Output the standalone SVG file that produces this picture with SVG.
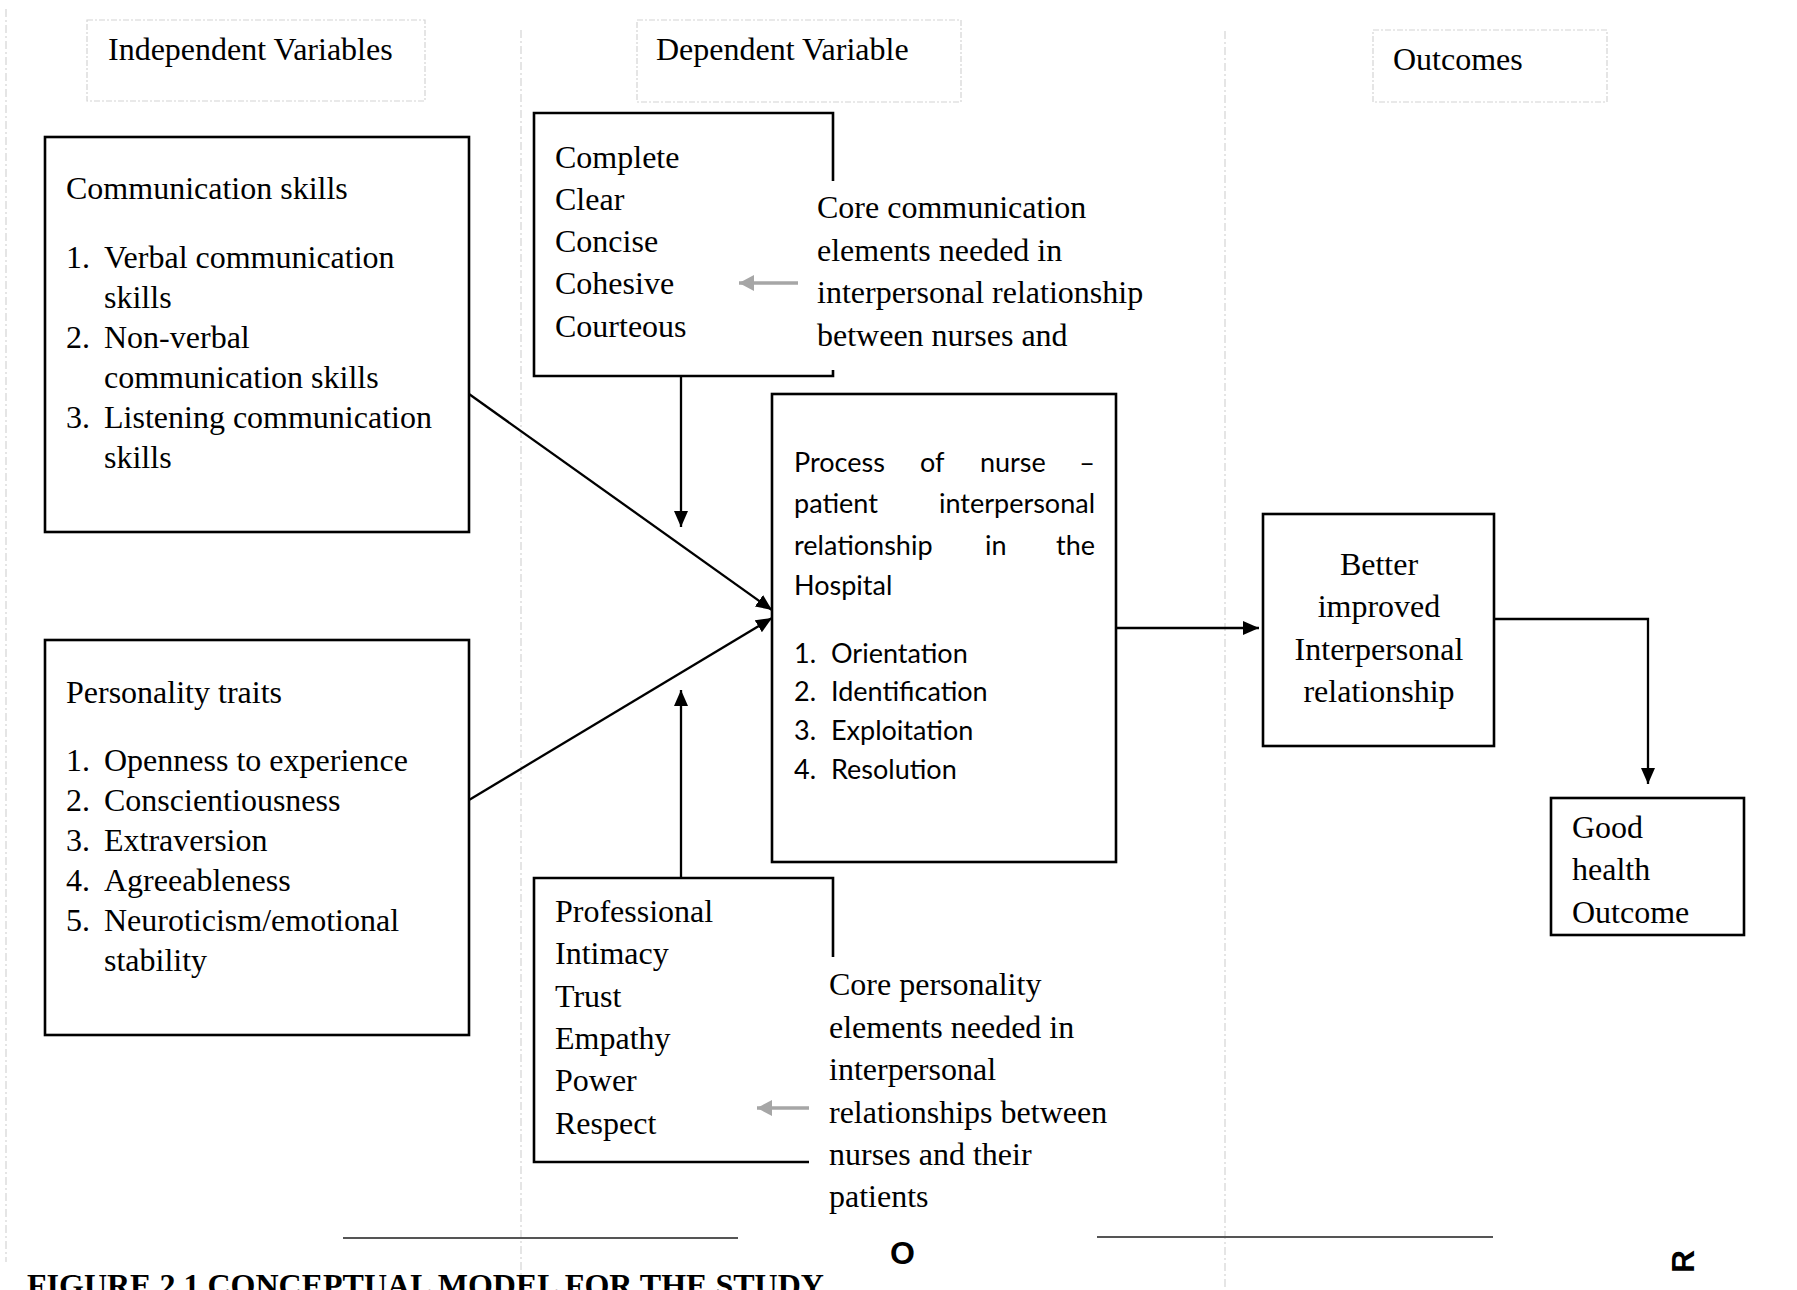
<svg xmlns="http://www.w3.org/2000/svg" width="1797" height="1290" viewBox="0 0 1797 1290">
<style>
.serif{font-family:"Liberation Serif","Times New Roman",serif;font-size:32px;fill:#000}
.cal{font-family:Lato,"Noto Sans",sans-serif;font-size:27px;fill:#000}
.box{fill:none;stroke:#000;stroke-width:2.6}
.hdr{fill:none;stroke:#d4d4d4;stroke-width:1.2;stroke-dasharray:6 2 2 2}
.guide{fill:none;stroke:#d4d4d4;stroke-width:1.2;stroke-dasharray:8 3 2 3}
.con{fill:none;stroke:#000;stroke-width:2.3}
.gray{fill:none;stroke:#a6a6a6;stroke-width:3.6}
.rule{stroke:#555;stroke-width:2}
.bold{font-family:"Liberation Sans",Arial,sans-serif;font-weight:bold;font-size:32px;fill:#000}
</style>
<defs>
<marker id="ah" markerUnits="userSpaceOnUse" markerWidth="16" markerHeight="14" refX="16" refY="7" orient="auto">
<path d="M0,0 L16,7 L0,14 z" fill="#000"/>
</marker>
<marker id="ahg" markerUnits="userSpaceOnUse" markerWidth="15" markerHeight="16" refX="15" refY="8" orient="auto">
<path d="M0,0 L15,8 L0,16 z" fill="#a6a6a6"/>
</marker>
</defs>
<rect width="1797" height="1290" fill="#fff"/>

<g id="guides">
<line class="guide" x1="6" y1="9" x2="6" y2="1262"/>
<line class="guide" x1="521" y1="30" x2="521" y2="1290"/>
<line class="guide" x1="1225" y1="31" x2="1225" y2="1290"/>
</g>

<g id="hdr-independent">
<rect class="hdr" x="87" y="20" width="338" height="81"/>
<text class="serif" x="108" y="60">Independent Variables</text>
</g>
<g id="hdr-dependent">
<rect class="hdr" x="637" y="20" width="324" height="82"/>
<text class="serif" x="656" y="60">Dependent Variable</text>
</g>
<g id="hdr-outcomes">
<rect class="hdr" x="1373" y="30" width="234" height="72"/>
<text class="serif" x="1393" y="70">Outcomes</text>
</g>

<g id="communication">
<rect class="box" x="45" y="137" width="424" height="395"/>
<text class="serif" x="66" y="199">Communication skills</text>
<text class="serif" x="66" y="268">1.</text><text class="serif" x="104" y="268">Verbal communication</text>
<text class="serif" x="104" y="308">skills</text>
<text class="serif" x="66" y="348">2.</text><text class="serif" x="104" y="348">Non-verbal</text>
<text class="serif" x="104" y="388">communication skills</text>
<text class="serif" x="66" y="428">3.</text><text class="serif" x="104" y="428">Listening communication</text>
<text class="serif" x="104" y="468">skills</text>
</g>

<g id="personality">
<rect class="box" x="45" y="640" width="424" height="395"/>
<text class="serif" x="66" y="703">Personality traits</text>
<text class="serif" x="66" y="771">1.</text><text class="serif" x="104" y="771">Openness to experience</text>
<text class="serif" x="66" y="811">2.</text><text class="serif" x="104" y="811">Conscientiousness</text>
<text class="serif" x="66" y="851">3.</text><text class="serif" x="104" y="851">Extraversion</text>
<text class="serif" x="66" y="891">4.</text><text class="serif" x="104" y="891">Agreeableness</text>
<text class="serif" x="66" y="931">5.</text><text class="serif" x="104" y="931">Neuroticism/emotional</text>
<text class="serif" x="104" y="971">stability</text>
</g>

<g id="comm-elements">
<path class="box" d="M833,181 L833,113 L534,113 L534,376 L833,376 L833,370"/>
<text class="serif" x="555" y="168">Complete</text>
<text class="serif" x="555" y="210">Clear</text>
<text class="serif" x="555" y="252">Concise</text>
<text class="serif" x="555" y="294">Cohesive</text>
<text class="serif" x="555" y="337">Courteous</text>
</g>

<g id="comm-label">
<text class="serif" x="817" y="218">Core communication</text>
<text class="serif" x="817" y="261">elements needed in</text>
<text class="serif" x="817" y="303">interpersonal relationship</text>
<text class="serif" x="817" y="346">between nurses and</text>
</g>

<g id="process">
<rect class="box" x="772" y="394" width="344" height="468"/>
<text class="cal" x="794" y="472">Process</text>
<text class="cal" x="920" y="472">of</text>
<text class="cal" x="980" y="472">nurse</text>
<text class="cal" x="1095" y="472" text-anchor="end">–</text>
<text class="cal" x="794" y="513">patient</text>
<text class="cal" x="1095" y="513" text-anchor="end">interpersonal</text>
<text class="cal" x="794" y="555">relationship</text>
<text class="cal" x="985" y="555">in</text>
<text class="cal" x="1095" y="555" text-anchor="end">the</text>
<text class="cal" x="794" y="595">Hospital</text>
<text class="cal" x="794" y="663">1.</text><text class="cal" x="831" y="663">Orientation</text>
<text class="cal" x="794" y="701">2.</text><text class="cal" x="831" y="701">Identification</text>
<text class="cal" x="794" y="740">3.</text><text class="cal" x="831" y="740">Exploitation</text>
<text class="cal" x="794" y="779">4.</text><text class="cal" x="831" y="779">Resolution</text>
</g>

<g id="pers-elements">
<path class="box" d="M833,957 L833,878 L534,878 L534,1162 L809,1162"/>
<text class="serif" x="555" y="922">Professional</text>
<text class="serif" x="555" y="964">Intimacy</text>
<text class="serif" x="555" y="1007">Trust</text>
<text class="serif" x="555" y="1049">Empathy</text>
<text class="serif" x="555" y="1091">Power</text>
<text class="serif" x="555" y="1134">Respect</text>
</g>

<g id="pers-label">
<text class="serif" x="829" y="995">Core personality</text>
<text class="serif" x="829" y="1038">elements needed in</text>
<text class="serif" x="829" y="1080">interpersonal</text>
<text class="serif" x="829" y="1123">relationships between</text>
<text class="serif" x="829" y="1165">nurses and their</text>
<text class="serif" x="829" y="1207">patients</text>
</g>

<g id="better">
<rect class="box" x="1263" y="514" width="231" height="232"/>
<text class="serif" x="1379" y="575" text-anchor="middle">Better</text>
<text class="serif" x="1379" y="617" text-anchor="middle">improved</text>
<text class="serif" x="1379" y="660" text-anchor="middle">Interpersonal</text>
<text class="serif" x="1379" y="702" text-anchor="middle">relationship</text>
</g>

<g id="good">
<rect class="box" x="1551" y="798" width="193" height="137"/>
<text class="serif" x="1572" y="838">Good</text>
<text class="serif" x="1572" y="880">health</text>
<text class="serif" x="1572" y="923">Outcome</text>
</g>

<g id="connectors">
<line class="con" x1="469" y1="394" x2="772" y2="610" marker-end="url(#ah)"/>
<line class="con" x1="469" y1="800" x2="772" y2="618" marker-end="url(#ah)"/>
<line class="con" x1="681" y1="376" x2="681" y2="527" marker-end="url(#ah)"/>
<line class="con" x1="681" y1="878" x2="681" y2="690" marker-end="url(#ah)"/>
<line class="con" x1="1116" y1="628" x2="1259" y2="628" marker-end="url(#ah)"/>
<polyline class="con" points="1494,619 1648,619 1648,784" marker-end="url(#ah)"/>
<line class="gray" x1="798" y1="283" x2="739" y2="283" marker-end="url(#ahg)"/>
<line class="gray" x1="809" y1="1108" x2="757" y2="1108" marker-end="url(#ahg)"/>
</g>

<g id="footer">
<line class="rule" x1="343" y1="1238" x2="738" y2="1238"/>
<line class="rule" x1="1097" y1="1237" x2="1493" y2="1237"/>
<text class="bold" x="890" y="1264">O</text>
<text class="bold" font-size="30" transform="translate(1694,1273) rotate(-90)">R</text>
<text class="serif" font-weight="bold" x="27" y="1296">FIGURE 2.1 CONCEPTUAL MODEL FOR THE STUDY</text>
</g>
</svg>
